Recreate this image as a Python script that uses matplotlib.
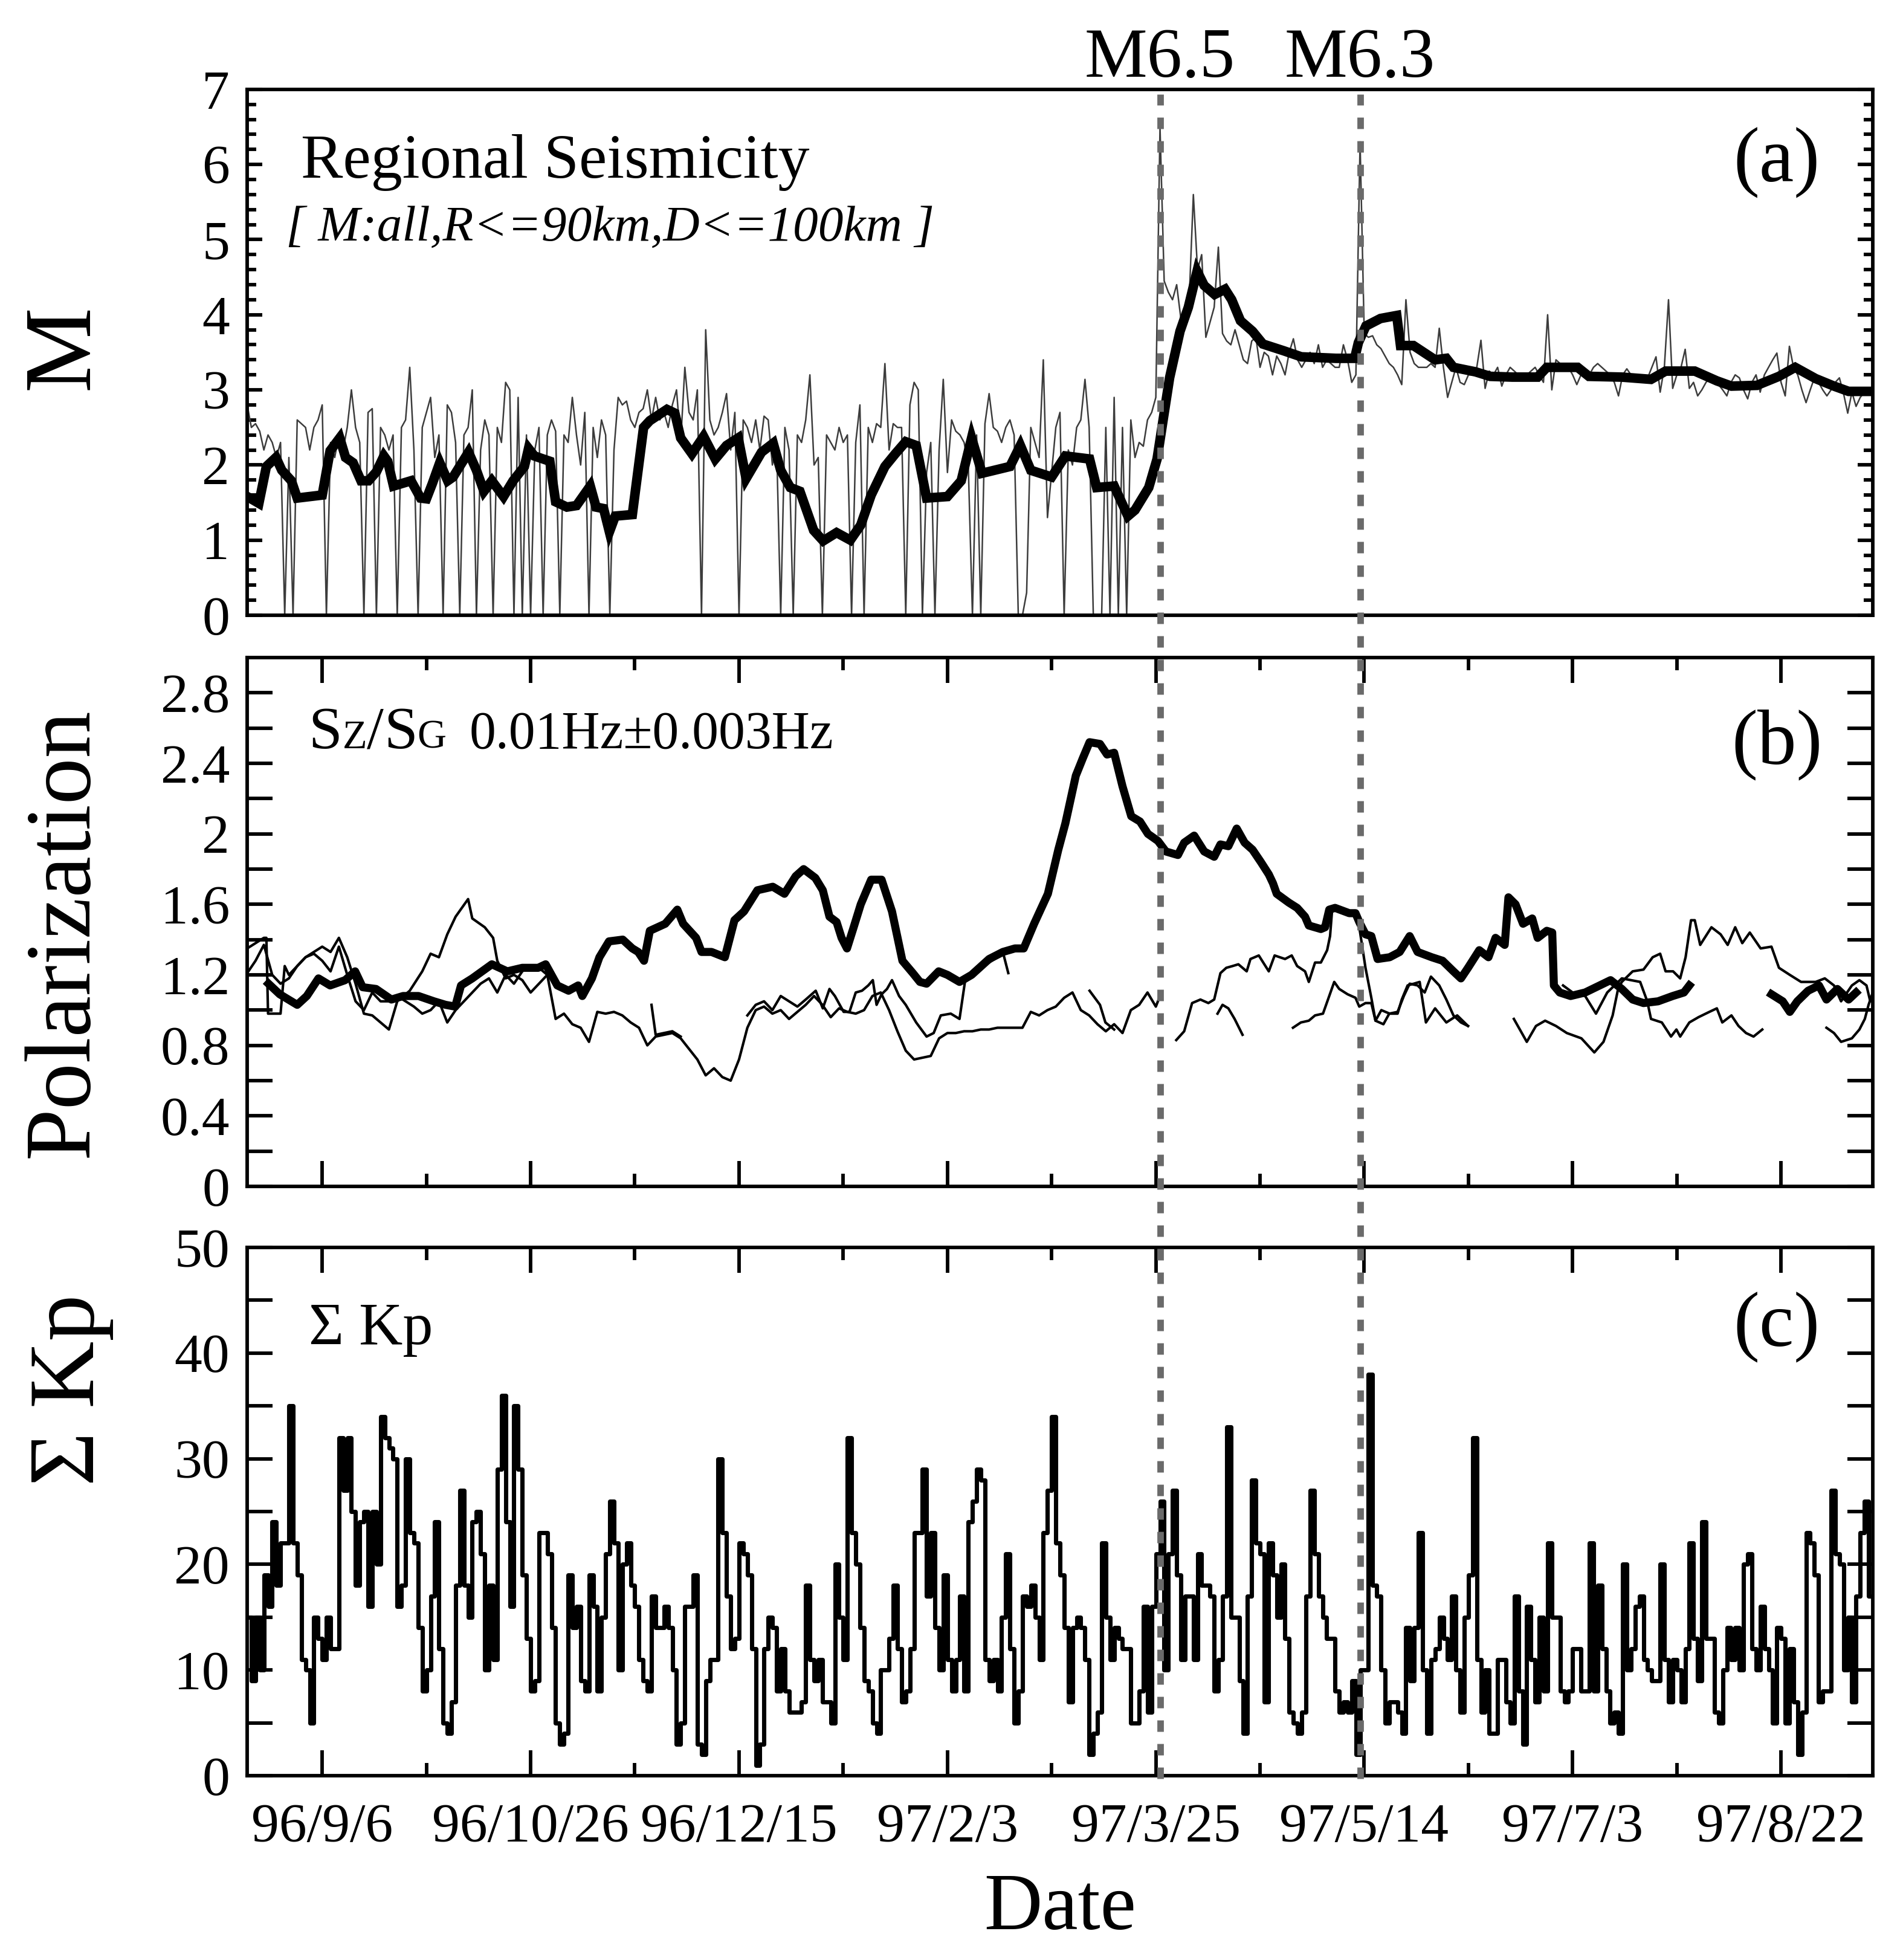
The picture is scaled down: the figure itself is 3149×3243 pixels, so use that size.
import numpy as np
import matplotlib
matplotlib.use("Agg")
import matplotlib.pyplot as plt
import matplotlib.dates as mdates
import matplotlib.transforms as mtransforms
from matplotlib.ticker import FixedLocator, MultipleLocator, FuncFormatter
from matplotlib.offsetbox import TextArea, HPacker, AnchoredOffsetbox, DrawingArea
from matplotlib.lines import Line2D

plt.rcParams['font.family'] = ['Liberation Serif', 'DejaVu Serif']

# ---------------- data ----------------
START_DATE = '1996-08-19'
END_DATE = '1997-09-13'
tick_dates = ['1996-09-06', '1996-10-26', '1996-12-15', '1997-02-03',
              '1997-03-25', '1997-05-14', '1997-07-03', '1997-08-22']
tick_labels = ['96/9/6', '96/10/26', '96/12/15', '97/2/3',
               '97/3/25', '97/5/14', '97/7/3', '97/8/22']
quake_dates = ['1997-03-26', '1997-05-13']
quake_labels = ['M6.5', 'M6.3']

# daily maximum magnitude (one value per day from START_DATE)
mag_daily = [
    2.8, 2.5, 2.55, 2.45, 2.2, 2.4, 2.3, 2.1, 2.3, 0,
    2.1, 0, 2.6, 2.55, 2.5, 2.2, 2.5, 2.6, 2.8, 0,
    2.3, 2.1, 2.4, 2.2, 2.5, 3.0, 2.5, 2.3, 0, 2.7,
    2.75, 0, 2.5, 2.4, 2.2, 2.4, 0, 2.5, 2.6, 3.3,
    2.2, 0, 2.5, 2.7, 2.9, 2.1, 2.4, 0, 2.8, 2.7,
    2.3, 0, 2.4, 2.5, 3.0, 0, 2.2, 2.6, 2.4, 0,
    2.5, 2.3, 3.1, 3.0, 0, 2.9, 0, 2.4, 0, 2.2,
    2.5, 0, 2.4, 2.6, 2.45, 0, 2.4, 2.3, 2.9, 2.4,
    2.0, 2.7, 0, 2.5, 2.1, 2.6, 2.4, 0, 2.2, 2.9,
    2.8, 2.85, 2.6, 2.5, 2.7, 2.75, 3.0, 2.6, 2.9, 2.6,
    2.7, 2.5, 2.8, 3.0, 2.3, 3.3, 2.7, 2.6, 3.0, 0,
    3.8, 2.6, 2.4, 2.5, 2.7, 2.95, 2.2, 2.7, 0, 2.6,
    2.5, 2.3, 2.6, 2.2, 2.65, 2.6, 2.0, 2.3, 0, 2.5,
    2.2, 0, 2.4, 2.3, 2.6, 3.2, 2.0, 2.1, 0, 2.4,
    2.3, 2.2, 2.5, 2.3, 2.4, 0, 2.3, 2.8, 0, 2.5,
    2.3, 2.55, 2.5, 3.35, 2.2, 2.55, 2.5, 2.5, 0, 2.8,
    3.1, 3.0, 0, 1.9, 2.3, 0, 2.2, 3.14, 1.9, 2.6,
    2.45, 2.4, 2.3, 2.0, 0, 2.4, 0, 2.55, 2.95, 2.5,
    2.45, 2.3, 2.5, 2.6, 2.4, 0, 0, 0.3, 2.5, 2.3,
    2.1, 3.4, 1.3, 1.9, 2.5, 2.7, 0, 2.2, 2.0, 2.5,
    2.6, 3.14, 2.5, 0, 0, 0, 2.5, 0, 2.9, 0,
    2.5, 0, 2.6, 2.1, 2.3, 2.25, 2.6, 2.7, 2.9, 6.5,
    4.45, 4.3, 4.2, 4.4, 3.95, 4.0, 4.2, 5.6, 4.6, 4.8,
    3.7, 3.9, 4.1, 4.9, 3.75, 3.65, 3.6, 3.8, 3.6, 3.4,
    3.35, 3.65, 3.7, 3.3, 3.5, 3.45, 3.2, 3.45, 3.35, 3.2,
    3.5, 3.68, 3.4, 3.3, 3.4, 3.5, 3.35, 3.6, 3.3, 3.4,
    3.35, 3.3, 3.3, 3.6, 3.4, 3.1, 3.2, 6.3, 3.75, 3.7,
    3.72, 3.6, 3.55, 3.45, 3.35, 3.3, 3.2, 3.07, 4.2, 3.5,
    3.35, 3.3, 3.3, 3.3, 3.35, 3.3, 3.82, 3.3, 2.9, 3.1,
    3.3, 3.1, 3.07, 3.2, 3.2, 3.3, 3.66, 3.02, 3.25, 3.2,
    3.3, 3.05, 3.2, 3.3, 3.25, 3.2, 3.2, 3.2, 3.25, 3.3,
    3.2, 3.1, 4.0, 3.0, 3.4, 3.35, 3.3, 3.3, 3.2, 3.07,
    3.2, 3.25, 3.2, 3.3, 3.35, 3.3, 3.25, 3.2, 3.1, 2.92,
    3.2, 3.28, 3.2, 3.2, 3.15, 3.1, 3.16, 3.3, 3.44, 2.97,
    3.3, 4.2, 3.02, 3.2, 3.3, 3.54, 3.02, 3.1, 2.92, 3.0,
    3.1, 3.16, 3.1, 3.07, 3.0, 2.92, 3.1, 3.2, 3.16, 3.0,
    2.88, 3.1, 3.2, 2.97, 3.2, 3.3, 3.4, 3.49, 3.1, 2.92,
    3.58, 3.3, 3.2, 3.0, 2.83, 3.0, 3.16, 3.1, 3.0, 2.92,
    3.0, 3.1, 3.16, 2.95, 2.69, 2.97, 2.78, 2.9, 2.97, 2.97,
]

# running-average magnitude: (day offset, value)
mag_avg = [
    (0, 1.58), (2.8, 1.49), (4.6, 1.98), (6.9, 2.1), (8.3, 1.93), (10.6, 1.79), (12, 1.56), (18, 1.6),
    (19.9, 2.19), (22.2, 2.36), (23.6, 2.1), (25.4, 2.03), (27.3, 1.79), (29.1, 1.79), (31, 1.91),
    (32.8, 2.12), (33.7, 2.05), (35.1, 1.72), (39.3, 1.79), (41.6, 1.56), (43, 1.55), (44.4, 1.75),
    (46.2, 2.03), (48.1, 1.79), (49.4, 1.84), (53.1, 2.17), (55, 1.93), (56.8, 1.65), (58.7, 1.79),
    (61.5, 1.58), (63.8, 1.79), (66.5, 1.98), (67.5, 2.22), (68.9, 2.12), (72.6, 2.05), (74, 1.51),
    (76.7, 1.44), (79, 1.46), (82.3, 1.72), (83.7, 1.44), (85.5, 1.42), (86.9, 1.11), (88.3, 1.32),
    (92.4, 1.34), (95.1, 2.5), (96.6, 2.59), (100.7, 2.74), (102.6, 2.69), (104, 2.36), (106.7, 2.15),
    (109.5, 2.38), (112.3, 2.08), (115, 2.26), (117.8, 2.36), (119.7, 1.82), (123.4, 2.17),
    (126.2, 2.29), (128, 1.93), (130.3, 1.7), (132.6, 1.65), (135.9, 1.13), (138.2, 0.99),
    (141.4, 1.1), (144.7, 1.0), (147.2, 1.2), (149.7, 1.6), (153, 1.98), (155.5, 2.15), (158, 2.31),
    (160.5, 2.26), (163, 1.56), (168, 1.58), (171.3, 1.79), (173.8, 2.36), (176.3, 1.89), (183, 1.98),
    (185.5, 2.26), (188, 1.93), (193, 1.84), (196.3, 2.12), (202.1, 2.08), (203.8, 1.7), (208, 1.72),
    (211.3, 1.32), (213, 1.4), (216.3, 1.7), (218.3, 2.08), (219.6, 2.55), (221.3, 3.16),
    (223.8, 3.78), (225.8, 4.1), (227.9, 4.58), (229.6, 4.39), (232.1, 4.27), (234.6, 4.34),
    (236.2, 4.2), (238.3, 3.92), (241.2, 3.78), (243.7, 3.61), (248.7, 3.52), (252.9, 3.44),
    (261.2, 3.42), (265.7, 3.42), (266.6, 3.63), (268.4, 3.85), (271.9, 3.95), (275.8, 3.99),
    (276.7, 3.59), (279.8, 3.59), (285, 3.4), (287.7, 3.42), (289.4, 3.3), (294.7, 3.24),
    (298.2, 3.18), (303.5, 3.17), (309.6, 3.17), (311.8, 3.3), (319.2, 3.3), (321.9, 3.18),
    (329.8, 3.17), (336.8, 3.14), (340.3, 3.25), (347.3, 3.25), (352.6, 3.12), (356.1, 3.05),
    (362.2, 3.06), (367.5, 3.18), (371.4, 3.3), (376.3, 3.15), (380.7, 3.05), (384.2, 2.98),
    (389.9, 2.98),
]

# polarization Sz/SG, thick curve: (day offset, value); None marks a gap
pol_thick = [
    (5.1, 1.15), (7.8, 1.09), (12, 1.03), (14.3, 1.08), (17.1, 1.18), (19.9, 1.14), (23.5, 1.17),
    (25.9, 1.22), (27.7, 1.13), (30.9, 1.12), (34.6, 1.06), (37.4, 1.08), (41.1, 1.08), (44.8, 1.05),
    (47.6, 1.03), (49.9, 1.02), (51.3, 1.14), (54, 1.18), (58.7, 1.26), (62.4, 1.22), (66, 1.24),
    (69.8, 1.24), (71.6, 1.26), (74.4, 1.14), (77.1, 1.11), (79.4, 1.14), (80.4, 1.08), (82.7, 1.18),
    (84.5, 1.30), (86.8, 1.39), (90.1, 1.40), (92.4, 1.35), (93.8, 1.33), (95.2, 1.28), (96.6, 1.45),
    (100.3, 1.49), (103.2, 1.57), (104.6, 1.49), (107.7, 1.41), (109, 1.33), (111.4, 1.33),
    (114.6, 1.30), (116.9, 1.51), (119.2, 1.56), (122.4, 1.68), (126.1, 1.70), (128.9, 1.66),
    (131.6, 1.76), (133.5, 1.80), (136.3, 1.75), (138.1, 1.68), (139.7, 1.53), (141.4, 1.50),
    (142.6, 1.41), (143.9, 1.35), (145.5, 1.47), (147.2, 1.60), (149.7, 1.74), (152.2, 1.74),
    (154.7, 1.56), (157.2, 1.28), (159.7, 1.21), (161.4, 1.16), (163, 1.15), (165.9, 1.22),
    (168, 1.20), (170.9, 1.16), (173.8, 1.20), (178, 1.29), (181.3, 1.33), (184.2, 1.35),
    (186.3, 1.35), (188.8, 1.49), (192.1, 1.66), (194.6, 1.91), (196.3, 2.06), (198.8, 2.33),
    (200.5, 2.43), (202.1, 2.52), (204.6, 2.51), (206.3, 2.45), (208, 2.46), (210, 2.27),
    (212.1, 2.10), (214.2, 2.07), (216.1, 2.00), (218.5, 1.96), (220.4, 1.90), (223.3, 1.88),
    (224.8, 1.95), (227.2, 1.99), (229.6, 1.90), (232.0, 1.87), (233.5, 1.94), (235.4, 1.93),
    (237.4, 2.03), (239.3, 1.95), (241.2, 1.91), (243.2, 1.84), (245.1, 1.77), (246.1, 1.72),
    (247.0, 1.66), (249.9, 1.61), (251.9, 1.58), (253.8, 1.53), (254.7, 1.48), (257.6, 1.46),
    (258.6, 1.47), (259.6, 1.57), (261.0, 1.58), (264.4, 1.55), (265.9, 1.55), (266.8, 1.50),
    (268.3, 1.43), (269.7, 1.42), (271.2, 1.29), (274.1, 1.30), (276.5, 1.33), (278.9, 1.42),
    (280.8, 1.33), (284.2, 1.30), (286.8, 1.28), (289.4, 1.22), (291.2, 1.18), (292.9, 1.24),
    (295.6, 1.34), (297.8, 1.30), (299.5, 1.41), (301.7, 1.37), (302.6, 1.64), (304.3, 1.60),
    (306.1, 1.49), (308.3, 1.52), (309.6, 1.41), (311.8, 1.45), (313.1, 1.44), (313.5, 1.14),
    (314.9, 1.10), (317.5, 1.08), (321, 1.10), (323.6, 1.13), (327.1, 1.17), (329.8, 1.12),
    (332.4, 1.06), (335, 1.04), (338.5, 1.05), (342, 1.08), (344.7, 1.10), (346, 1.14),
    (346.5, None),
    (365.7, 1.09), (368.4, 1.05), (370.1, 0.99), (371.9, 1.05), (374.5, 1.11), (377.1, 1.14),
    (378.9, 1.06), (381.5, 1.12), (384.2, 1.06), (386, 1.10),
]

# polarization, first thin curve
pol_thin_a = [
    (0, 1.35), (2, 1.38), (4, 1.41), (4.6, 1.41), (5, 0.98), (8, 0.98), (9, 1.25), (10, 1.20),
    (12, 1.25), (14, 1.30), (16, 1.33), (18, 1.36), (20, 1.33), (22, 1.41), (24, 1.30), (26, 1.15),
    (28, 0.98), (30, 0.97), (31, 0.95), (34, 0.89), (36, 1.05), (39, 1.11), (42, 1.22), (44, 1.32),
    (46, 1.30), (48, 1.43), (50, 1.53), (53, 1.63), (54, 1.52), (57, 1.47), (59, 1.41), (60, 1.28),
    (62, 1.18), (64, 1.20), (66, 1.17), (68, 1.10), (70, 1.15), (72, 1.20),
    (73, None),
    (97, 1.03), (98, 0.86), (100, 0.87), (102, 0.88), (104, 0.85),
    (110, None),
    (120, 0.97), (122, 1.03), (124, 1.05), (126, 1.00), (128, 1.08), (130, 1.05), (132, 1.02),
    (134, 1.06), (136.4, 1.11), (138.1, 1.01), (139.7, 1.12), (141, 1.08), (143.1, 0.99),
    (144.5, 0.99), (146, 1.10), (147.5, 1.11), (149, 1.14), (150.1, 1.17), (151, 1.03),
    (152.2, 1.09), (153.5, 1.12), (154.7, 1.17), (156.4, 1.08), (158, 1.03), (160.5, 0.93),
    (163, 0.85), (164.7, 0.87), (166.4, 0.97), (168.8, 0.98), (170.9, 0.95), (172.2, 1.16),
    (174, 1.20), (176, 1.25), (178, 1.27), (180, 1.30), (181.3, 1.33), (182.6, 1.21),
    (190, None),
    (202.1, 1.11), (204.6, 1.03), (205.9, 0.93), (208, 0.89),
    (215, None),
    (222.9, 0.83), (224.8, 0.88), (226.7, 1.04), (228.7, 1.06), (230.6, 1.04), (232.0, 1.06),
    (233.5, 1.21), (234.9, 1.24), (236.4, 1.25), (237.8, 1.26), (239.8, 1.22), (240.7, 1.29),
    (242.7, 1.31), (245.1, 1.22), (246.5, 1.31), (249.0, 1.29), (250.6, 1.31), (251.9, 1.25),
    (253.8, 1.22), (254.7, 1.16), (256.2, 1.27), (257.6, 1.27), (259.1, 1.34), (259.8, 1.42),
    (260.3, 1.57), (261.0, 1.58), (264.4, 1.56), (266.3, 1.55), (268.3, 1.24), (269.7, 1.07),
    (270.7, 0.94), (272.6, 0.92), (274, 0.98), (276, 0.99), (277.5, 1.08), (278.9, 1.15),
    (280.8, 1.14), (282.5, 1.10), (284, 1.19), (286, 1.14), (287.7, 1.06), (289.4, 0.97),
    (291.2, 0.93), (292.9, 0.91),
    (298, None),
    (303.9, 0.95), (307, 0.82), (309.2, 0.91), (311.4, 0.94), (314, 0.91), (316.6, 0.87),
    (320.1, 0.84), (323.2, 0.76), (325.4, 0.82), (327.6, 0.97), (328.9, 1.12), (329.8, 1.16),
    (332.4, 1.22), (335, 1.23), (337.2, 1.30), (339, 1.32), (340.3, 1.22), (342.1, 1.22),
    (343.8, 1.18), (345.1, 1.30), (346.4, 1.51), (347.3, 1.51), (348.6, 1.37), (351.3, 1.47),
    (353.5, 1.43), (355.2, 1.37), (357, 1.47), (358.7, 1.38), (360.5, 1.44), (363.1, 1.35),
    (365.7, 1.36), (367.5, 1.24), (370.1, 1.20), (372.8, 1.16), (376.3, 1.16), (378.5, 1.18),
    (380.7, 1.14), (382.4, 1.05), (385, 1.14), (386.8, 1.17), (388.5, 1.14), (389.4, 1.05),
]

# polarization, second thin curve
pol_thin_b = [
    (0, 1.21), (2, 1.28), (4, 1.37), (6, 1.20), (8, 1.15), (10, 1.18), (12, 1.25), (14, 1.30),
    (16, 1.32), (18, 1.28), (20, 1.22), (22, 1.36), (24, 1.20), (26, 1.05), (28, 1.00), (30, 1.10),
    (32, 1.05), (34, 1.05), (36, 1.08), (38, 1.05), (40, 1.02), (42, 0.98), (44, 1.00), (46, 1.05),
    (48, 0.93), (50, 1.00), (52, 1.05), (54, 1.10), (56, 1.15), (58, 1.18), (60, 1.10), (62, 1.20),
    (64, 1.15), (66, 1.22), (68, 1.25), (70, 1.24), (72, 1.20), (74, 0.95), (76, 0.98), (78, 0.92),
    (80, 0.90), (82, 0.82), (84, 0.99), (86, 0.98), (88, 0.99), (90, 0.97), (92, 0.93), (94, 0.90),
    (96, 0.80), (98, 0.85), (100, 0.86), (102, 0.87), (104, 0.84), (106, 0.78), (108, 0.72),
    (110, 0.63), (112, 0.67), (114, 0.62), (116, 0.60), (118, 0.72), (120, 0.90), (122, 1.00),
    (124, 1.02), (126, 0.98), (128, 1.00), (130, 0.95), (132, 0.99), (134, 1.03), (136, 1.08),
    (138, 1.03), (140, 0.96), (142, 1.01), (144, 0.99), (146, 0.98), (148, 1.00), (150, 1.08),
    (152, 1.10), (154, 1.00), (156, 0.88), (158, 0.77), (160, 0.72), (162, 0.73), (164, 0.74),
    (166, 0.84), (168, 0.87), (170, 0.87), (172, 0.88), (174, 0.88), (176, 0.89), (178, 0.89),
    (180, 0.90), (182, 0.90), (184, 0.90), (186, 0.90), (188, 0.99), (190, 0.97), (192, 1.00),
    (194, 1.02), (196, 1.07), (198, 1.10), (200, 1.00), (202, 0.97), (204, 0.92), (206, 0.88),
    (208, 0.92), (210, 0.87), (212, 1.00), (214, 1.03), (216, 1.10), (218, 1.02), (219, 1.08),
    (220, None),
    (232.8, 0.98), (234.0, 1.03), (235.4, 1.01), (236.9, 0.95), (238.8, 0.86),
    (245, None),
    (250.9, 0.90), (252.8, 0.93), (254.7, 0.94), (256.2, 0.97), (258.1, 0.98), (259.6, 1.08),
    (260.8, 1.16), (262.0, 1.12), (264.0, 1.09), (265.9, 1.07), (266.8, 1.02), (268.3, 1.04),
    (269.7, 1.04), (270.7, 0.94), (272.1, 1.00), (274.1, 0.98), (276.0, 0.98), (277.0, 1.06),
    (278.4, 1.14), (279.9, 1.15), (281.3, 1.16), (282.8, 0.93), (285, 1.01), (287.7, 0.93),
    (290.3, 0.97), (292.9, 0.91),
    (300, None),
    (315.7, 1.14), (318, 1.10), (321, 1.08), (323.6, 0.98), (326.3, 1.10), (329.8, 1.18),
    (332, 1.17), (334.2, 1.16), (335.9, 1.05), (336.8, 0.95), (339.4, 0.93), (341.6, 0.85),
    (342.9, 0.89), (343.8, 0.85), (346, 0.93), (348.2, 0.96), (350.8, 0.99), (352.6, 1.01),
    (353.9, 0.93), (356.1, 0.97), (357.8, 0.91), (359.6, 0.87), (361.4, 0.85), (363.5, 0.89),
    (370, None),
    (378.9, 0.90), (380.7, 0.87), (382.4, 0.82), (385, 0.84), (386.8, 0.89), (388.1, 0.95),
    (389, 1.03), (390, 1.10),
]

# daily sum of Kp (one value per day from START_DATE)
kp_sum = [
    15, 9, 15, 10, 19, 16, 24, 18, 22, 22,
    35, 22, 19, 11, 10, 5, 15, 13, 11, 15,
    12, 12, 32, 27, 32, 25, 18, 24, 25, 16,
    25, 20, 34, 32, 31, 30, 16, 18, 30, 23,
    22, 14, 8, 10, 17, 24, 12, 5, 4, 7,
    18, 27, 18, 15, 24, 25, 21, 10, 18, 11,
    29, 36, 24, 16, 35, 29, 19, 13, 8, 9,
    23, 23, 21, 14, 5, 3, 4, 19, 14, 16,
    9, 8, 19, 16, 8, 15, 21, 26, 22, 10,
    20, 22, 18, 16, 11, 9, 8, 17, 14, 14,
    16, 14, 10, 3, 5, 16, 16, 19, 3, 2,
    9, 11, 11, 30, 23, 17, 12, 13, 22, 21,
    19, 12, 1, 3, 12, 15, 14, 8, 12, 8,
    6, 6, 6, 7, 18, 11, 9, 11, 7, 7,
    5, 20, 15, 11, 32, 23, 20, 14, 9, 8,
    5, 4, 10, 10, 13, 18, 12, 7, 8, 12,
    23, 23, 29, 17, 23, 14, 10, 19, 11, 8,
    11, 17, 8, 24, 26, 29, 28, 11, 9, 11,
    8, 15, 21, 12, 5, 8, 17, 16, 18, 15,
    11, 23, 27, 34, 22, 19, 14, 7, 14, 15,
    14, 11, 2, 4, 6, 22, 15, 11, 14, 13,
    12, 12, 5, 5, 8, 16, 6, 16, 21, 26,
    10, 21, 27, 19, 11, 17, 17, 11, 21, 18,
    18, 17, 8, 11, 17, 33, 15, 15, 9, 4,
    17, 28, 22, 21, 7, 22, 19, 15, 20, 13,
    6, 5, 4, 6, 17, 27, 21, 17, 15, 13,
    13, 8, 6, 7, 6, 9, 2, 10, 10, 38,
    18, 17, 10, 5, 7, 7, 6, 4, 14, 9,
    14, 23, 10, 4, 11, 12, 15, 13, 11, 17,
    10, 6, 15, 19, 32, 11, 6, 10, 4, 4,
    11, 11, 7, 5, 17, 8, 3, 16, 11, 7,
    15, 8, 22, 15, 15, 8, 7, 8, 12, 12,
    8, 8, 22, 8, 18, 12, 8, 5, 6, 4,
    20, 10, 12, 16, 17, 11, 10, 9, 9, 20,
    11, 7, 11, 10, 7, 12, 22, 13, 9, 24,
    13, 13, 6, 5, 10, 14, 11, 14, 10, 20,
    21, 12, 10, 16, 12, 10, 5, 14, 13, 5,
    12, 7, 2, 6, 23, 22, 19, 7, 8, 8,
    27, 21, 20, 10, 15, 7, 17, 23, 26, 17,
]

# ---------------- helpers ----------------
t0 = mdates.date2num(np.datetime64(START_DATE))
t1 = mdates.date2num(np.datetime64(END_DATE))


def xdays(d):
    return t0 + np.asarray(d, dtype=float)


def unzip(pairs):
    d = np.array([p[0] for p in pairs], dtype=float)
    v = np.array([np.nan if p[1] is None else p[1] for p in pairs], dtype=float)
    return xdays(d), v


tick_x = mdates.date2num(np.array(tick_dates, dtype='datetime64[D]'))
minor_x = tick_x + 25
minor_x = minor_x[minor_x < t1]

FS_TICK = 22
LW_SPINE = 1.4

fig = plt.figure(figsize=(3149 / 300, 3243 / 300), dpi=300)
L, W = 0.1299, 0.8542
ax_a = fig.add_axes([L, 0.6861, W, 0.2683])
ax_b = fig.add_axes([L, 0.3947, W, 0.2698])
ax_c = fig.add_axes([L, 0.0940, W, 0.2696])

for ax in (ax_a, ax_b, ax_c):
    ax.set_xlim(t0, t1)
    for s in ax.spines.values():
        s.set_linewidth(LW_SPINE)
    ax.tick_params(which='both', direction='in', left=True, right=True,
                   width=LW_SPINE, labelsize=FS_TICK, pad=7)

# ---------------- panel (a) ----------------
ax_a.plot(xdays(np.arange(len(mag_daily))), mag_daily, color='#3c3c3c', lw=0.6, zorder=2)
xa, va = unzip(mag_avg)
ax_a.plot(xa, va, color='black', lw=3.8, solid_joinstyle='miter', zorder=3)
ax_a.set_ylim(0, 7)
ax_a.yaxis.set_major_locator(MultipleLocator(1))
ax_a.yaxis.set_minor_locator(MultipleLocator(0.2))
ax_a.tick_params(axis='y', which='major', length=6)
ax_a.tick_params(axis='y', which='minor', length=3.5)
ax_a.tick_params(axis='x', which='both', top=False, bottom=False, labelbottom=False)
ax_a.text(0.033, 0.832, 'Regional Seismicity', transform=ax_a.transAxes,
          fontsize=25, va='baseline', ha='left')
ax_a.text(0.0236, 0.713, '[ M:all,R<=90km,D<=100km ]', transform=ax_a.transAxes,
          fontsize=20, style='italic', va='baseline', ha='left')
ax_a.text(0.941, 0.825, '(a)', transform=ax_a.transAxes, fontsize=31,
          ha='center', va='baseline')

# ---------------- panel (b) ----------------
xb, vb = unzip(pol_thin_a)
ax_b.plot(xb, vb, color='black', lw=1.0)
xb, vb = unzip(pol_thin_b)
ax_b.plot(xb, vb, color='black', lw=1.0)
xb, vb = unzip(pol_thick)
ax_b.plot(xb, vb, color='black', lw=3.2)
ax_b.set_ylim(0, 3.0)
ax_b.yaxis.set_major_locator(FixedLocator(np.arange(0, 2.81, 0.4)))
ax_b.yaxis.set_minor_locator(FixedLocator(np.arange(0.2, 2.7, 0.4)))
ax_b.yaxis.set_major_formatter(FuncFormatter(lambda v, p: f'{v:g}'))
ax_b.tick_params(axis='y', which='both', length=10)
ax_b.xaxis.set_major_locator(FixedLocator(tick_x))
ax_b.xaxis.set_minor_locator(FixedLocator(minor_x))
ax_b.tick_params(axis='x', which='major', length=10, top=True, bottom=True, labelbottom=False)
ax_b.tick_params(axis='x', which='minor', length=5, top=True, bottom=True)

parts = [('S', 24), ('Z', 16), ('/', 24), ('S', 24), ('G', 16)]
boxes = [TextArea(t, textprops=dict(fontsize=s)) for t, s in parts]
boxes.append(DrawingArea(9, 1))
boxes.append(TextArea('0.01Hz\u00b10.003Hz', textprops=dict(fontsize=21)))
pack = HPacker(children=boxes, align='baseline', pad=0, sep=0)
anch = AnchoredOffsetbox(loc='lower left', child=pack, pad=0, borderpad=0, frameon=False,
                         bbox_to_anchor=(0.0378, 0.805), bbox_transform=ax_b.transAxes)
ax_b.add_artist(anch)
ax_b.text(0.941, 0.80, '(b)', transform=ax_b.transAxes, fontsize=31,
          ha='center', va='baseline')

# ---------------- panel (c) ----------------
xk = xdays(np.arange(len(kp_sum) + 1))
yk = list(kp_sum) + [kp_sum[-1]]
ax_c.step(xk, yk, where='post', color='black', lw=1.7)
ax_c.set_ylim(0, 50)
ax_c.yaxis.set_major_locator(MultipleLocator(10))
ax_c.yaxis.set_minor_locator(MultipleLocator(5))
ax_c.tick_params(axis='y', which='both', length=10)
ax_c.set_xticks(tick_x, tick_labels)
ax_c.xaxis.set_minor_locator(FixedLocator(minor_x))
ax_c.tick_params(axis='x', which='major', length=10, top=True, bottom=True, pad=11)
ax_c.tick_params(axis='x', which='minor', length=5, top=True, bottom=True)
ax_c.text(0.0378, 0.817, '\u03a3 Kp', transform=ax_c.transAxes, fontsize=24,
          ha='left', va='baseline')
ax_c.text(0.941, 0.813, '(c)', transform=ax_c.transAxes, fontsize=31,
          ha='center', va='baseline')

# ---------------- axis titles ----------------
fig.text(0.034, 0.8227, 'M', rotation=90, fontsize=38, ha='center', va='center')
fig.text(0.034, 0.524, 'Polarization', rotation=90, fontsize=37, ha='center', va='center')
fig.text(0.0375, 0.291, '\u03a3 Kp', rotation=90, fontsize=37, ha='center', va='center')
fig.text(0.557, 0.0256, 'Date', fontsize=32, ha='center', va='center')

# ---------------- earthquake markers ----------------
trans = mtransforms.blended_transform_factory(ax_c.transData, fig.transFigure)
for qd, ql in zip(quake_dates, quake_labels):
    xq = mdates.date2num(np.datetime64(qd))
    fig.add_artist(Line2D([xq, xq], [0.0925, 0.9518], transform=trans,
                          color='#6a6a6a', lw=2.6, linestyle=(0, (1.75, 1.85)), zorder=5))
    fig.text(xq, 0.9608, ql, transform=trans, fontsize=28, ha='center', va='baseline')

fig.savefig('out.png', dpi=300, facecolor='white')
